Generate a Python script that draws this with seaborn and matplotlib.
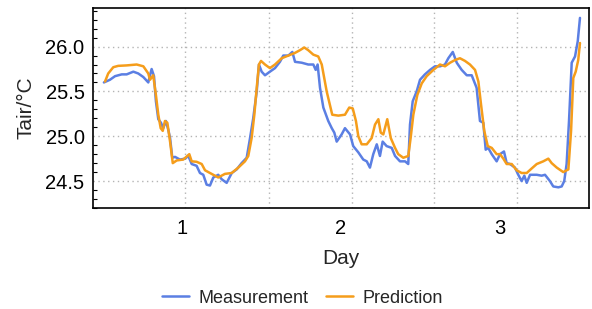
import matplotlib
matplotlib.use("Agg")
import matplotlib.pyplot as plt
from matplotlib.ticker import MultipleLocator
import numpy as np
import pandas as pd
import seaborn as sns

# values
meas_day = [0.509, 0.547, 0.579, 0.621, 0.652, 0.694, 0.725, 0.757, 0.788, 0.809,
            0.824, 0.836, 0.851, 0.868, 0.882, 0.899, 0.914, 0.925, 0.939, 0.956,
            0.987, 1.019, 1.040, 1.061, 1.092, 1.113, 1.134, 1.155, 1.176, 1.197,
            1.228, 1.250, 1.281, 1.313, 1.344, 1.375, 1.407, 1.428, 1.448, 1.470,
            1.484, 1.501, 1.522, 1.553, 1.585, 1.616, 1.637, 1.669, 1.694, 1.711,
            1.753, 1.794, 1.826, 1.841, 1.853, 1.868, 1.889, 1.920, 1.942, 1.958,
            1.973, 2.004, 2.025, 2.057, 2.077, 2.109, 2.140, 2.162, 2.182, 2.203,
            2.225, 2.245, 2.262, 2.287, 2.319, 2.340, 2.371, 2.403, 2.423, 2.434,
            2.451, 2.476, 2.497, 2.528, 2.560, 2.591, 2.623, 2.654, 2.675, 2.703,
            2.728, 2.759, 2.791, 2.822, 2.853, 2.874, 2.895, 2.910, 2.926, 2.948,
            2.979, 3.000, 3.025, 3.042, 3.063, 3.094, 3.115, 3.136, 3.153, 3.168,
            3.189, 3.231, 3.262, 3.283, 3.314, 3.335, 3.367, 3.388, 3.404, 3.419,
            3.434, 3.451, 3.472, 3.489, 3.503]
meas_temp = [25.60, 25.63, 25.67, 25.69, 25.69, 25.72, 25.70, 25.66, 25.60, 25.75,
             25.67, 25.39, 25.19, 25.15, 25.09, 25.17, 25.07, 24.98, 24.76, 24.77,
             24.74, 24.75, 24.78, 24.69, 24.67, 24.59, 24.57, 24.46, 24.45, 24.54,
             24.57, 24.52, 24.48, 24.59, 24.63, 24.70, 24.76, 24.98, 25.20, 25.50,
             25.80, 25.72, 25.68, 25.72, 25.76, 25.83, 25.90, 25.90, 25.94, 25.83,
             25.82, 25.80, 25.80, 25.74, 25.80, 25.54, 25.32, 25.17, 25.09, 25.04,
             24.94, 25.02, 25.09, 25.02, 24.89, 24.82, 24.74, 24.72, 24.65, 24.80,
             24.91, 24.78, 24.94, 24.89, 24.87, 24.78, 24.72, 24.72, 24.69, 25.13,
             25.39, 25.50, 25.63, 25.69, 25.74, 25.78, 25.78, 25.80, 25.87, 25.94,
             25.82, 25.74, 25.68, 25.68, 25.54, 25.17, 25.15, 24.85, 24.87, 24.80,
             24.72, 24.80, 24.83, 24.70, 24.69, 24.65, 24.57, 24.50, 24.56, 24.48,
             24.57, 24.57, 24.56, 24.57, 24.50, 24.44, 24.43, 24.44, 24.50, 24.69,
             25.17, 25.82, 25.89, 26.06, 26.32]

pred_day = [0.516, 0.536, 0.568, 0.599, 0.652, 0.715, 0.757, 0.788, 0.799, 0.819,
            0.836, 0.851, 0.866, 0.879, 0.893, 0.908, 0.925, 0.942, 0.967, 1.008,
            1.046, 1.061, 1.092, 1.124, 1.145, 1.176, 1.228, 1.270, 1.313, 1.354,
            1.396, 1.417, 1.438, 1.455, 1.470, 1.484, 1.497, 1.522, 1.553, 1.585,
            1.627, 1.669, 1.711, 1.742, 1.769, 1.794, 1.826, 1.857, 1.879, 1.910,
            1.945, 1.983, 2.025, 2.052, 2.074, 2.094, 2.109, 2.130, 2.162, 2.193,
            2.214, 2.235, 2.250, 2.266, 2.291, 2.313, 2.340, 2.360, 2.392, 2.423,
            2.438, 2.455, 2.480, 2.508, 2.539, 2.581, 2.623, 2.654, 2.686, 2.717,
            2.748, 2.780, 2.811, 2.843, 2.864, 2.881, 2.901, 2.923, 2.948, 2.979,
            3.000, 3.021, 3.042, 3.074, 3.105, 3.136, 3.168, 3.199, 3.231, 3.272,
            3.304, 3.325, 3.357, 3.398, 3.430, 3.447, 3.461, 3.476, 3.492, 3.503]
pred_temp = [25.61, 25.70, 25.77, 25.785, 25.79, 25.80, 25.78, 25.70, 25.63, 25.68,
             25.46, 25.24, 25.09, 25.06, 25.17, 25.15, 24.94, 24.70, 24.73, 24.74,
             24.80, 24.72, 24.715, 24.69, 24.62, 24.59, 24.54, 24.58, 24.59, 24.65,
             24.72, 24.78, 24.98, 25.24, 25.54, 25.80, 25.84, 25.80, 25.76, 25.80,
             25.87, 25.90, 25.93, 25.96, 25.99, 25.96, 25.91, 25.89, 25.80, 25.50,
             25.24, 25.23, 25.24, 25.32, 25.31, 25.17, 25.00, 24.91, 24.91, 24.98,
             25.13, 25.19, 25.04, 25.02, 25.19, 24.98, 24.87, 24.80, 24.76, 24.78,
             24.98, 25.24, 25.46, 25.59, 25.67, 25.74, 25.80, 25.78, 25.82, 25.85,
             25.87, 25.84, 25.80, 25.74, 25.61, 25.35, 25.06, 24.89, 24.87, 24.80,
             24.80, 24.75, 24.69, 24.69, 24.62, 24.59, 24.59, 24.64, 24.69, 24.72,
             24.75, 24.70, 24.65, 24.60, 24.63, 25.06, 25.65, 25.72, 25.85, 26.04]

grid_x = [1.019, 1.547, 2.069, 2.585, 3.107]
grid_y = [24.5, 25.0, 25.5, 26.0]
x_ticks = [1, 2, 3]

df = pd.concat([
    pd.DataFrame({"Day": meas_day, "Tair": meas_temp, "series": "Measurement"}),
    pd.DataFrame({"Day": pred_day, "Tair": pred_temp, "series": "Prediction"}),
], ignore_index=True)

sns.set_style("white")
plt.rcParams["font.family"] = ["Liberation Sans", "DejaVu Sans"]

fig = plt.figure(figsize=(5.92, 3.09), dpi=100)
ax = fig.add_axes([0.157, 0.327, 0.838, 0.647])

for gx in grid_x:
    ax.axvline(gx, color="#b4b4b4", lw=1.0, ls=(0, (1, 2.5)), zorder=0)
for gy in grid_y:
    ax.axhline(gy, color="#b4b4b4", lw=1.0, ls=(0, (1, 2.5)), zorder=0)

sns.lineplot(data=df, x="Day", y="Tair", hue="series", estimator=None, sort=False,
             palette={"Measurement": "#5b7fe3", "Prediction": "#f59d1b"},
             linewidth=1.8, legend=False, ax=ax)

ax.set_xlim(0.44, 3.56)
ax.set_ylim(24.2, 26.43)
ax.set_xticks(x_ticks)
ax.set_yticks(grid_y)
ax.set_yticklabels([f"{v:.1f}" for v in grid_y])
ax.yaxis.set_minor_locator(MultipleLocator(0.1))

ax.tick_params(axis="both", which="both", direction="in", labelsize=14.5, colors="black")
ax.tick_params(axis="y", which="major", length=5, width=1, pad=6)
ax.tick_params(axis="y", which="minor", length=3, width=0.8, left=True)
ax.tick_params(axis="x", which="major", length=4, width=1, pad=8)
ax.tick_params(axis="x", which="minor", bottom=False)

for sp in ax.spines.values():
    sp.set_color("black")
    sp.set_linewidth(1.2)

ax.set_xlabel("Day", fontsize=15, labelpad=8)
ax.set_ylabel("Tair/°C", fontsize=15, labelpad=7)

handles = [plt.Line2D([], [], color="#5b7fe3", lw=1.8),
           plt.Line2D([], [], color="#f59d1b", lw=1.8)]
fig.legend(handles, ["Measurement", "Prediction"], loc="lower center",
           bbox_to_anchor=(0.511, -0.045), ncol=2, frameon=False, fontsize=13,
           handlelength=1.5, handletextpad=0.55, columnspacing=0.95)

fig.savefig("out.png", dpi=100)
